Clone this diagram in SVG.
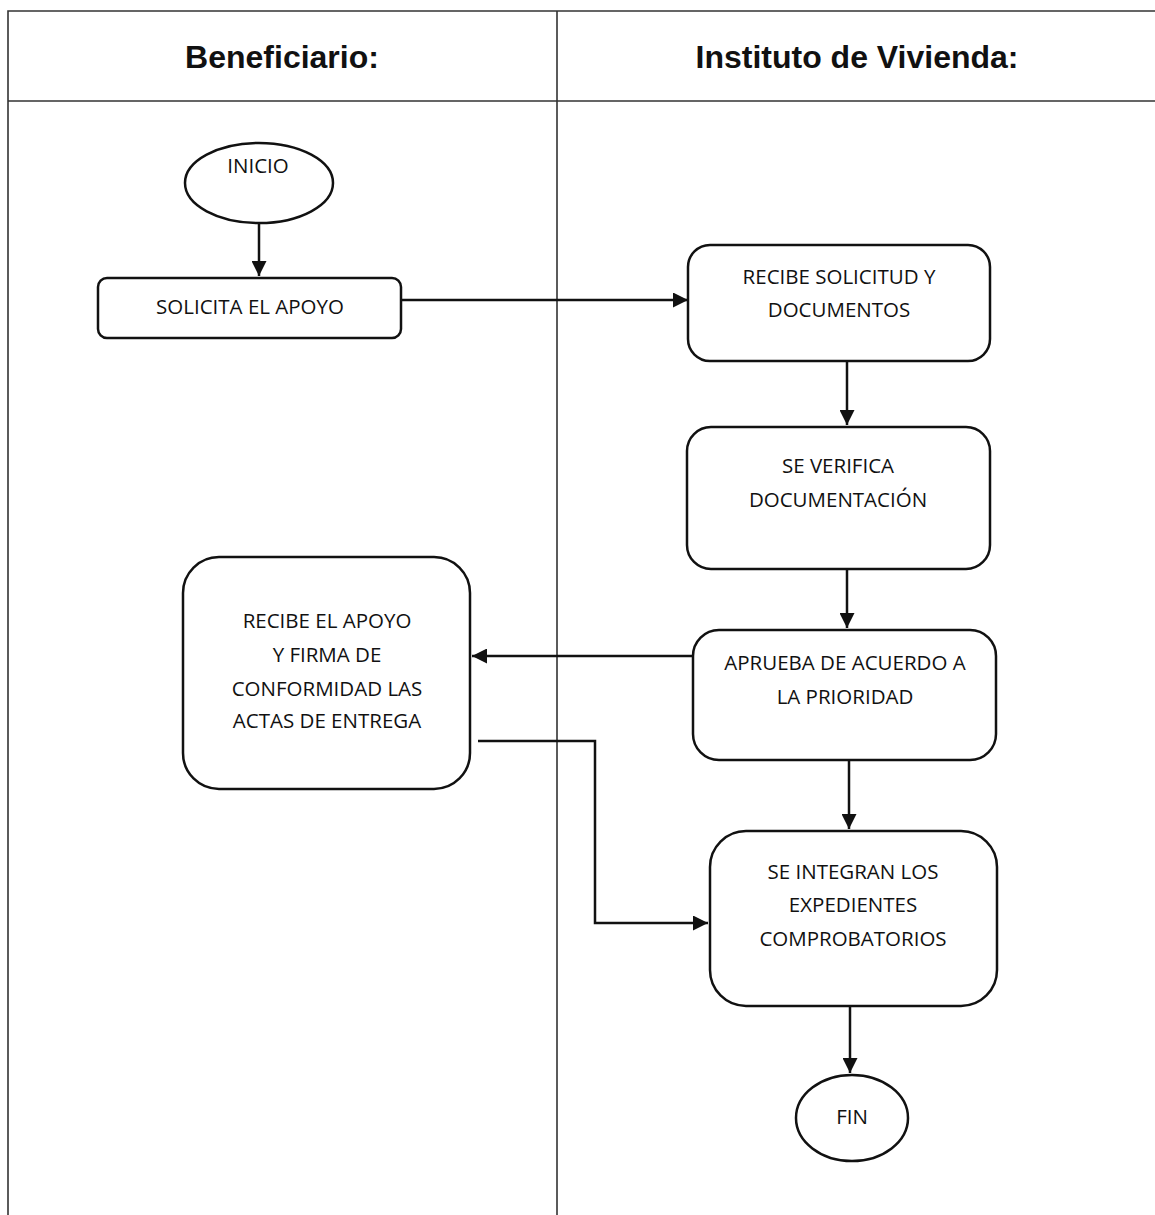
<svg xmlns="http://www.w3.org/2000/svg" width="1155" height="1215" viewBox="0 0 1155 1215">
<defs>
<style>
.grid{stroke:#333;stroke-width:1.6;fill:none}
.node{fill:#fff;stroke:#111;stroke-width:2.5}
.lbl{font-family:"Open Sans","Liberation Sans",sans-serif;font-size:20.5px;fill:#111;text-anchor:middle}
.hdr{font-family:"Liberation Sans",Arial,sans-serif;font-size:32px;font-weight:bold;fill:#111;text-anchor:middle}
.conn{stroke:#111;stroke-width:2.5;fill:none}
</style>
<marker id="ah" viewBox="0 0 10 10" refX="10" refY="5" markerWidth="6" markerHeight="6" markerUnits="strokeWidth" orient="auto">
<path d="M0,0 L10,5 L0,10 Z" fill="#111"/>
</marker>
</defs>
<rect width="1155" height="1215" fill="#fff"/>
<g id="table">
<path class="grid" d="M8,1215 V11 H1155 M8,101 H1155 M557,11 V1215"/>
<text class="hdr" x="282" y="68">Beneficiario:</text>
<text class="hdr" x="857" y="68">Instituto de Vivienda:</text>
</g>
<g id="connectors">
<path class="conn" d="M259,223 V276" marker-end="url(#ah)"/>
<path class="conn" d="M401,300 H688" marker-end="url(#ah)"/>
<path class="conn" d="M847,361 V425" marker-end="url(#ah)"/>
<path class="conn" d="M847,569 V628" marker-end="url(#ah)"/>
<path class="conn" d="M693,656 H472" marker-end="url(#ah)"/>
<path class="conn" d="M478,741 H595 V923 H708" marker-end="url(#ah)"/>
<path class="conn" d="M849,760 V829" marker-end="url(#ah)"/>
<path class="conn" d="M850,1006 V1073" marker-end="url(#ah)"/>
</g>
<g id="inicio">
<ellipse class="node" cx="259" cy="183" rx="74" ry="40"/>
<text class="lbl" x="258" y="173">INICIO</text>
</g>
<g id="solicita">
<rect class="node" x="98" y="278" width="303" height="60" rx="9"/>
<text class="lbl" x="250" y="314">SOLICITA EL APOYO</text>
</g>
<g id="recibe-solicitud">
<rect class="node" x="688" y="245" width="302" height="116" rx="22"/>
<text class="lbl" x="839" y="284">RECIBE SOLICITUD Y</text>
<text class="lbl" x="839" y="317">DOCUMENTOS</text>
</g>
<g id="verifica">
<rect class="node" x="687" y="427" width="303" height="142" rx="24"/>
<text class="lbl" x="838" y="473">SE VERIFICA</text>
<text class="lbl" x="838" y="507">DOCUMENTACIÓN</text>
</g>
<g id="aprueba">
<rect class="node" x="693" y="630" width="303" height="130" rx="26"/>
<text class="lbl" x="845" y="670">APRUEBA DE ACUERDO A</text>
<text class="lbl" x="845" y="704">LA PRIORIDAD</text>
</g>
<g id="recibe-apoyo">
<rect class="node" x="183" y="557" width="287" height="232" rx="36"/>
<text class="lbl" x="327" y="628">RECIBE EL APOYO</text>
<text class="lbl" x="327" y="662">Y FIRMA DE</text>
<text class="lbl" x="327" y="696">CONFORMIDAD LAS</text>
<text class="lbl" x="327" y="728">ACTAS DE ENTREGA</text>
</g>
<g id="integran">
<rect class="node" x="710" y="831" width="287" height="175" rx="36"/>
<text class="lbl" x="853" y="879">SE INTEGRAN LOS</text>
<text class="lbl" x="853" y="912">EXPEDIENTES</text>
<text class="lbl" x="853" y="946">COMPROBATORIOS</text>
</g>
<g id="fin">
<ellipse class="node" cx="852" cy="1118" rx="56" ry="43"/>
<text class="lbl" x="852" y="1124">FIN</text>
</g>
</svg>
